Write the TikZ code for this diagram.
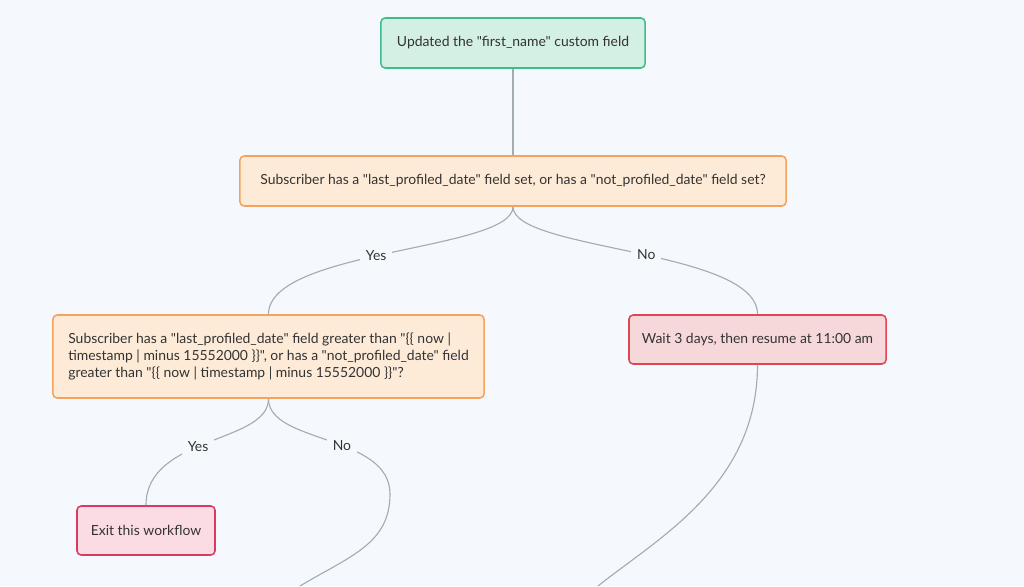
\documentclass[tikz,border=0pt]{standalone}
\usepackage{fontspec}
\setmainfont{Lato}[Ligatures=TeXOff]

\definecolor{bgcol}{HTML}{F5F9FD}
\definecolor{txtcol}{HTML}{333333}
\definecolor{linecol}{HTML}{A2ACB4}
\definecolor{greenfill}{HTML}{D4EFE3}
\definecolor{greendraw}{HTML}{3EBD8C}
\definecolor{orangefill}{HTML}{FDEBD8}
\definecolor{orangedraw}{HTML}{F5A35C}
\definecolor{redfill}{HTML}{F7D8DA}
\definecolor{reddraw}{HTML}{E04651}
\definecolor{pinkfill}{HTML}{FBDCE5}
\definecolor{pinkdraw}{HTML}{D93A60}

\tikzset{
	stepbox/.style={draw, rounded corners=3pt, line width=1.1pt, text=txtcol,
		font=\fontsize{9.9}{11.8}\selectfont, inner sep=0pt},
	greenbox/.style={stepbox, fill=greenfill, draw=greendraw},
	orangebox/.style={stepbox, fill=orangefill, draw=orangedraw},
	redbox/.style={stepbox, fill=redfill, draw=reddraw},
	pinkbox/.style={stepbox, fill=pinkfill, draw=pinkdraw},
	link/.style={draw=linecol, line width=0.8pt},
	answer/.style={fill=bgcol, inner sep=4pt, text=txtcol, font=\fontsize{9.9}{11.8}\selectfont}
}

\begin{document}
\begin{tikzpicture}[x=0.025cm, y=0.025cm]

	\fill[bgcol] (0,0) rectangle (1024,586);
	\useasboundingbox (0,0) rectangle (1024,586);

	% steps
	\node[greenbox, minimum width=6.6cm, minimum height=1.25cm] (updated) at (513,543) {Updated the "first\_name" custom field};
	\node[orangebox, minimum width=13.65cm, minimum height=1.25cm] (profiled) at (513,405) {Subscriber has a "last\_profiled\_date" field set, or has a "not\_profiled\_date" field set?};
	\node[orangebox, minimum width=10.775cm, minimum height=2.075cm, align=left] (recent) at (268.5,229.5) {Subscriber has a "last\_profiled\_date" field greater than "\{\{ now |\\
timestamp | minus 15552000 \}\}", or has a "not\_profiled\_date" field\\
greater than "\{\{ now | timestamp | minus 15552000 \}\}"?};
	\node[redbox, minimum width=6.425cm, minimum height=1.225cm] (wait) at (757.5,246.5) {Wait 3 days, then resume at 11:00 am};
	\node[pinkbox, minimum width=3.45cm, minimum height=1.225cm] (exit) at (146,55.5) {Exit this workflow};

	\coordinate (bend) at (390,92);
	\coordinate (offleft) at (300,0);
	\coordinate (offright) at (598,0);

	% connectors
	\draw[link] (updated.south) -- (profiled.north);
	\draw[link] (profiled.south) .. controls +(0,-44) and +(0,65) .. (recent.north) node[answer, pos=0.54] {Yes};
	\draw[link] (profiled.south) .. controls +(0,-44) and +(0,65) .. (wait.north) node[answer, pos=0.53] {No};
	\draw[link] (recent.south) .. controls +(0,-45) and +(0,70) .. (exit.north) node[answer, pos=0.55] {Yes};
	\draw[link] (recent.south) .. controls +(0,-45) and +(0,60) .. (bend) node[answer, pos=0.57] {No}
		.. controls +(0,-50) and +(50,30) .. (offleft);
	\draw[link] (wait.south) .. controls +(0,-120) and +(60,48) .. (offright);

\end{tikzpicture}
\end{document}
